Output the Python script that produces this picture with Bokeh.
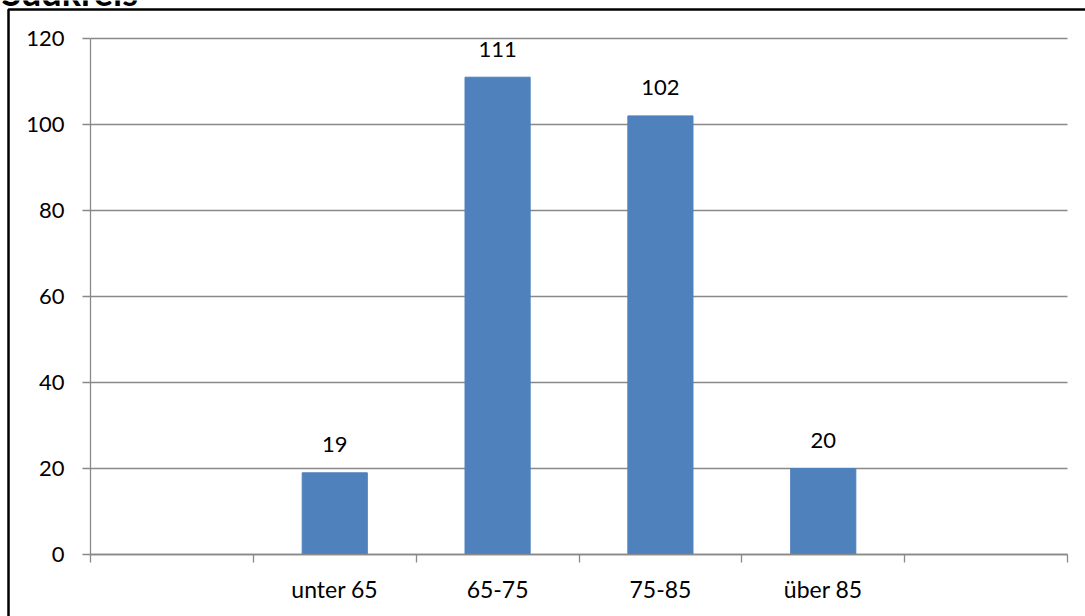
from bokeh.plotting import figure
from bokeh.models import FixedTicker, Label, BoxAnnotation, ColumnDataSource
from bokeh.core.properties import value
from bokeh.embed import file_html
from bokeh.resources import INLINE

title = "Südkreis"
categories = ["", "unter 65", "65-75", "75-85", "über 85", ""]
counts = [None, 19, 111, 102, 20, None]
y_ticks = [0, 20, 40, 60, 80, 100, 120]

FONT = "Lato"
GRAY = "#898989"
BAR = "#4F81BD"

W, H = 1085, 616
# pixel placement of the plotting area (x: 0..n, y: 0..120)
PX_L, PX_R, PX_T, PX_B = 90, 1067, 38, 554
n = len(categories)
sx = (PX_R - PX_L) / n
sy = (PX_B - PX_T) / 120.0
x_start, x_end = -PX_L / sx, n + (W - PX_R) / sx
y_start, y_end = -(H - PX_B) / sy, 120 + PX_T / sy


def dx(px):
    return x_start + px / sx


def dy(py):
    return y_end - py / sy


xs = [i + 0.5 for i, c in enumerate(counts) if c is not None]
vals = [c for c in counts if c is not None]
src = ColumnDataSource(dict(x=xs, top=vals, lab=[str(v) for v in vals]))

p = figure(width=W, height=H, x_range=(x_start, x_end), y_range=(y_start, y_end),
           output_backend="svg", toolbar_location=None, title=None,
           min_border_left=0, min_border_right=0, min_border_top=0, min_border_bottom=0)
p.outline_line_color = None
p.background_fill_color = "white"
p.border_fill_color = "white"

p.vbar(x="x", top="top", width=0.4, color=BAR, source=src)
p.text(x="x", y="top", text="lab", source=src, y_offset=-28,
       text_align="center", text_baseline="alphabetic",
       text_font=value(FONT), text_font_size="22px", text_color="black")

# y axis at x=0
p.yaxis.fixed_location = 0
p.yaxis.bounds = (0, 120)
p.yaxis.ticker = FixedTicker(ticks=y_ticks)
p.yaxis.axis_line_color = GRAY
p.yaxis.axis_line_width = 1.3
p.yaxis.major_tick_line_color = GRAY
p.yaxis.major_tick_line_width = 1.3
p.yaxis.major_tick_in = 0
p.yaxis.major_tick_out = 8
p.yaxis.minor_tick_line_color = None
p.yaxis.major_label_text_font = FONT
p.yaxis.major_label_text_font_size = "22px"
p.yaxis.major_label_text_color = "black"
p.yaxis.major_label_standoff = 18

# x axis at y=0: labels at category centres, ticks at boundaries
centers = [i + 0.5 for i in range(n)]
bounds = [i for i in range(n + 1)]
p.xaxis.fixed_location = 0
p.xaxis.bounds = (0, n)
p.xaxis.ticker = FixedTicker(ticks=centers, minor_ticks=bounds)
p.xaxis.major_label_overrides = {c: lab for c, lab in zip(centers, categories)}
p.xaxis.axis_line_color = GRAY
p.xaxis.axis_line_width = 1.3
p.xaxis.major_tick_line_color = None
p.xaxis.minor_tick_line_color = GRAY
p.xaxis.minor_tick_line_width = 1.3
p.xaxis.minor_tick_in = 0
p.xaxis.minor_tick_out = 8
p.xaxis.major_label_text_font = FONT
p.xaxis.major_label_text_font_size = "23px"
p.xaxis.major_label_text_color = "black"
p.xaxis.major_label_standoff = 12

p.xgrid.grid_line_color = None
p.ygrid.bounds = (0, 120)
p.ygrid.cross_bounds = (0, n)
p.ygrid.grid_line_color = GRAY
p.ygrid.grid_line_width = 1.3

# outer frame (its right and bottom edges lie outside the picture)
frame = BoxAnnotation(left=dx(8), right=x_end + 1, top=dy(9), bottom=y_start - 1,
                      fill_alpha=0, line_color="black", line_alpha=1.0,
                      line_width=2.5, level="overlay")
p.add_layout(frame)

# title, cut off at the top as in the original
p.add_layout(Label(x=dx(1), y=dy(-9), text=title,
                   text_font=FONT, text_font_style="bold", text_font_size="36px",
                   text_baseline="alphabetic", text_color="black"))

open("out.html", "w").write(file_html(p, INLINE))
